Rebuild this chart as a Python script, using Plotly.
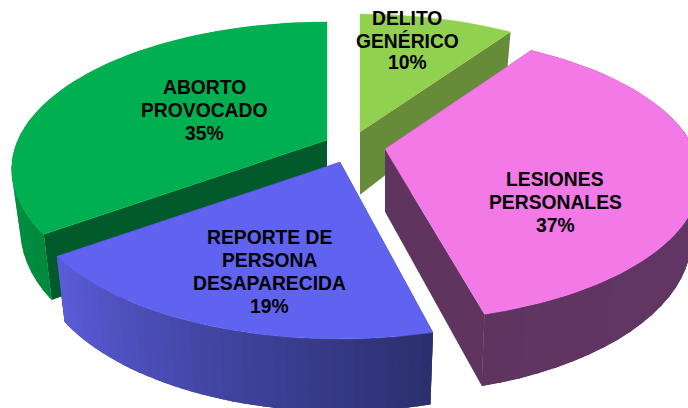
import numpy as np
import plotly.graph_objects as go

categories = ["DELITO GENÉRICO", "LESIONES PERSONALES", "REPORTE DE PERSONA DESAPARECIDA", "ABORTO PROVOCADO"]
values = [9.6, 36.5, 18.9, 35.0]
percent_labels = ["10%", "37%", "19%", "35%"]

label_lines = [["DELITO", "GENÉRICO", "10%"], ["LESIONES", "PERSONALES", "37%"],
               ["REPORTE DE", "PERSONA", "DESAPARECIDA", "19%"], ["ABORTO", "PROVOCADO", "35%"]]
label_pos = [(407, 18.5, 22), (555, 179, 23), (269, 237, 23), (204, 87, 23)]
apex = [(360, 132), (385, 149), (340, 162), (327, 140)]
rot = [0, -0.018, 0, 0]
yscale = [1, 0.975, 1, 1]
top_col = ["#92D050", "#F279E6", "#6063F0", "#00B050"]
wall_col = ["#668C3A", "#5F3560", "#2C2F6E", "#005A2A"]
side_from = ["#668C3A", "#66386A", "#5A5CD8", "#009A46"]
side_to = ["#668C3A", "#5F3560", "#2C2F6E", "#008A3E"]
order = [0, 3, 1, 2]

R, r, K, D, SHRINK = 309, 141.6, 0.2, 58, 0.028

def proj(i, t, depth=0.0):
    a = apex[i]
    X, Y = np.sin(t), np.cos(t)
    s = 1 / (1 + K * Y)
    shrink = 1 - SHRINK * depth / D
    return a[0] + R * X * s * shrink, a[1] - r * yscale[i] * Y * s + depth * s

def mix(c1, c2, f):
    p = [int(c1[i:i + 2], 16) for i in (1, 3, 5)]
    q = [int(c2[i:i + 2], 16) for i in (1, 3, 5)]
    return "#%02x%02x%02x" % tuple(round(u + (v - u) * f) for u, v in zip(p, q))

fig = go.Figure()

def poly(xs, ys, color, lw=0.0):
    fig.add_trace(go.Scatter(x=list(xs), y=list(ys), mode="lines", fill="toself", fillcolor=color,
                             line=dict(color=color, width=lw), hoverinfo="skip", showlegend=False))

edges = np.cumsum([0] + values) / sum(values) * 2 * np.pi

for i in order:
    a = apex[i]
    t0, t1 = edges[i] + rot[i], edges[i + 1] + rot[i]
    # walls from the centre to both cut edges
    for t in (t0, t1):
        x1, y1 = proj(i, t)
        x2, y2 = proj(i, t, D)
        poly([a[0], x1, x2, a[0]], [a[1], y1, y2, a[1] + D * 1.08], wall_col[i])
    # base of the outer wall, then strips for the shading
    ts = np.linspace(t0, t1, 41)
    bx, by = proj(i, ts)
    cx, cy = proj(i, ts[::-1], D)
    if i != 0:
        poly([*bx, *cx], [*by, *cy], mix(side_from[i], side_to[i], 0.5))
        for j in range(40):
            if np.cos(ts[j]) < 0.25 or np.cos(ts[j + 1]) < 0.25:
                f = j / 39
                if i == 3:
                    f = 1 - f
                tq = np.array([ts[j], ts[j + 1] + 0.01 if j < 39 else ts[j + 1]])
                xa, ya = proj(i, tq)
                xb, yb = proj(i, tq[::-1], D)
                poly([*xa, *xb], [*ya, *yb], mix(side_from[i], side_to[i], 1 - f if i == 2 else f))
    # top face
    tt = np.linspace(t0, t1, 160)
    px, py = proj(i, tt)
    poly([a[0], *px, a[0]], [a[1], *py, a[1]], top_col[i], 0.4)

annotations = []
for lines, (lx, ly, step) in zip(label_lines, label_pos):
    for k, line in enumerate(lines):
        annotations.append(dict(x=lx, y=ly + k * step, text="<b>" + line + "</b>", showarrow=False,
                                xref="x", yref="y",
                                font=dict(family="Liberation Sans", size=19.3, color="#000000"),
                                xanchor="center", yanchor="middle"))

fig.update_layout(width=688, height=408, margin=dict(l=0, r=0, t=0, b=0),
                  paper_bgcolor="white", plot_bgcolor="white", showlegend=False,
                  xaxis=dict(range=[0, 688], visible=False, fixedrange=True),
                  yaxis=dict(range=[408, 0], visible=False, fixedrange=True),
                  annotations=annotations)
fig.write_html("out.html", config={"displayModeBar": False},
               post_script="document.body.style.margin='0';document.body.style.overflow='hidden';")
